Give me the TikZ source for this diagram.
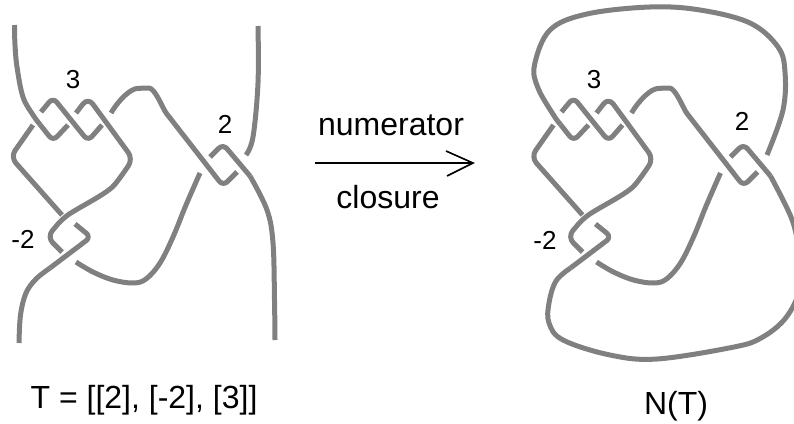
\documentclass[tikz,border=0pt]{standalone}
\usepackage{fontspec}
\setmainfont{Liberation Sans}
\definecolor{strand}{HTML}{808080}
\tikzset{
  knot/.style={draw=strand,line width=5pt,line join=round,rounded corners=6pt},
  wide/.style={knot,rounded corners=8pt},
  smth/.style={knot,rounded corners=0pt,smooth,tension=0.6},
  big/.style={font=\fontsize{32}{36}\selectfont,inner sep=0pt,anchor=base},
  num/.style={font=\fontsize{26}{30}\selectfont,inner sep=0pt,anchor=base},
}
\newcommand{\sharedstrands}{
  \draw[knot] (41,112) -- (53,97.5) -- (88,141) -- (102,125);
  \draw[wide] (76,113) -- (88,97.5) -- (133,159) -- (120,178) .. controls (108,193) and (85,204) .. (63,218) -- (47,237) -- (62,252);
  \draw[wide] (33,125) -- (10.5,157) -- (62,215);
  \draw[knot] (111,113) .. controls (120,98) and (131,89) .. (143,88) .. controls (155,88) and (163,109) .. (170,118) -- (223,186) -- (237,172);
  \draw[smth] plot coordinates {(76,262) (93,272) (113,280) (133,283) (146,279) (160,263) (173,237) (186,205) (200,173)};
  \draw[knot] (210,157) -- (223,144) -- (250,176);
  \draw[knot] (75,224) -- (91,237) -- (50,268);
}
\begin{document}
\begin{tikzpicture}[x=1pt,y=-1pt]
\useasboundingbox (0,0) rectangle (794,423);
\sharedstrands
\draw[smth] plot coordinates {(14.5,25) (15,45) (17,67) (23,97) (33,115) (40,124.5)};
\draw[knot] (40,124.5) -- (53,141) -- (68,125);
\draw[smth] plot coordinates {(50,268) (36,279) (26,293) (20.5,315) (19,343)};
\draw[smth] plot coordinates {(250,176) (267,210) (273,243) (274.5,300) (275,340)};
\draw[smth] plot coordinates {(258,26) (258,83) (253,137) (246,155)};
\begin{scope}[xshift=520.5pt]
\sharedstrands
\draw[knot] (40,124.5) -- (53,141) -- (68,125);
\end{scope}
\draw[smth] plot coordinates {(560.5,124.5) (553.5,115) (538,88) (534.5,65) (550,30) (587,14) (650,7) (700,10) (750,23) (778,47) (785,72) (783,110) (767,155)};
\draw[smth] plot coordinates {(570.5,268) (556,281) (549,303) (549,323) (563,340) (610,355) (657,359) (734,347) (761,338) (784,320) (798,295) (800,270) (798,245) (791,217) (770.5,176)};
\node[big] (num) at (391,135) {numerator};
\node[big] (clo) at (388,208) {closure};
\node[num] (a) at (73,88) {3};
\node[num] (b) at (225,133) {2};
\node[num] (c) at (23,248) {-2};
\node[num] (d) at (594,88) {3};
\node[num] (e) at (742,130) {2};
\node[num] (f) at (545,249) {-2};
\node[big] (t) at (144,408) {T = [[2], [-2], [3]]};
\node[big] (n) at (676,414) {N(T)};
\coordinate (s) at (315,163);
\coordinate (e1) at (473,163);
\draw[line width=1.6pt] (s) -- (e1);
\draw[line width=1.6pt] (446,151) -- (e1) -- (447,176);
\end{tikzpicture}
\end{document}
